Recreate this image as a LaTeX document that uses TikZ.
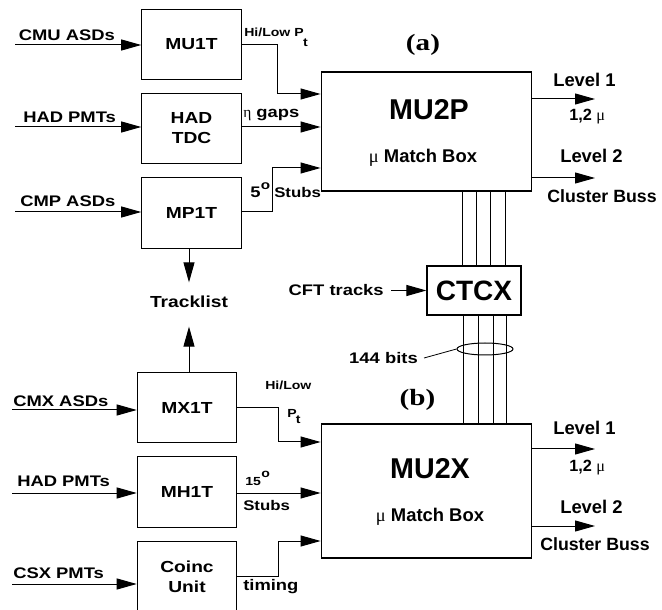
\documentclass[tikz,border=0pt]{standalone}
\usepackage{fontspec}
\setmainfont{Liberation Sans}
\newfontfamily\hvw[FakeStretch=1.2]{Liberation Sans}
\newfontfamily\tms{Liberation Serif}
\newfontfamily\tmsw[FakeStretch=1.25]{Liberation Serif}
\usepackage{tikz}
\usetikzlibrary{arrows.meta,shapes.geometric}
\newcommand{\gk}[1]{{\tms\mdseries #1}}

\begin{document}
\begin{tikzpicture}[x=.75pt,y=-.75pt,>={Triangle[length=15pt,width=8.25pt]},
 a/.style={->,line width=.75pt},
 bx/.style={draw,line width=.9pt,minimum width=74.5pt,minimum height=53pt,inner sep=0pt,align=center,font=\hvw\bfseries\fontsize{12}{15}\selectfont},
 mb/.style={draw,line width=.9pt,minimum width=158pt,inner sep=0pt},
 lab/.style={font=\hvw\bfseries\fontsize{11.5}{13}\selectfont,inner sep=0pt,anchor=base west},
 sm/.style={font=\hvw\bfseries\fontsize{8.8}{10}\selectfont,inner sep=0pt,anchor=base west},
 rt/.style={font=\bfseries\fontsize{13.8}{15}\selectfont,inner sep=0pt,anchor=base west},
 big/.style={font=\bfseries\fontsize{21.5}{24}\selectfont,inner sep=0pt,anchor=base},
 ttl/.style={font=\tmsw\bfseries\fontsize{17.5}{20}\selectfont,inner sep=0pt,anchor=base}]
\useasboundingbox (0,0) rectangle (662,610);
\clip (0,0) rectangle (662,610);
% (a) upper block
\node[bx] (mu1t) at (191.5,44.5) {MU1T};\node[bx] (hadtdc) at (191.5,128.5) {HAD\\TDC};\node[bx] (mp1t) at (191.5,213) {MP1T};
\node[mb,minimum height=89.25pt] (mu2p) at (426.5,131.5) {};
\node[big] (mu2pt) at (429,120) {MU2P};\node[rt,anchor=base] (mu2pm) at (423,163) {\gk{μ} Match Box};
\node[ttl] (ta) at (423,51) {(a)};
\node[lab] (cmu) at (18.5,40.5) {CMU ASDs};\node[lab] (hadp) at (23,122.5) {HAD PMTs};\node[lab] (cmp) at (20,207) {CMP ASDs};
\coordinate (cmu0) at (15,45);\coordinate (hadp0) at (15,127);\coordinate (cmp0) at (15,212);
\draw[a] (cmu0) -- (mu1t.west |- cmu0);\draw[a] (hadp0) -- (hadtdc.west |- hadp0);\draw[a] (cmp0) -- (mp1t.west |- cmp0);
\draw[a] (mu1t.east |- cmu0) -- ++(36,0) |- (mu2p.west |- 0,94);
\draw[a] (hadtdc.east |- hadp0) -- (mu2p.west |- hadp0);
\draw[a] (mp1t.east |- cmp0) -- ++(31,0) |- (mu2p.west |- 0,168);
\node[sm] (hl1) at (244,37) {Hi/Low P\kern-.5pt\raisebox{-7.5pt}{t}};
\node[lab] (eta) at (243,118) {\gk{η} gaps};
\node[lab] (deg5) at (250,198) {5\kern.3pt\raisebox{6.5pt}{\fontsize{9.5}{10}\selectfont o}};
\node[lab,font=\hvw\bfseries\fontsize{10.5}{12}\selectfont] (stb1) at (274,198) {Stubs};
\coordinate (l1p) at (595,99);\coordinate (l2p) at (595,178);
\draw[a] (mu2p.east |- l1p) -- (l1p);\draw[a] (mu2p.east |- l2p) -- (l2p);
\node[rt] (lv1p) at (553,87) {Level 1};\node[rt,font=\bfseries\fontsize{12.2}{14}\selectfont] (mup) at (569,121) {1,2 \gk{μ}};
\node[rt] (lv2p) at (560,163) {Level 2};\node[rt,font=\bfseries\fontsize{13.3}{15}\selectfont] (clp) at (547,203) {Cluster Buss};
% Tracklist
\node[font=\hvw\bfseries\fontsize{12}{14}\selectfont,inner sep=0pt] (tl) at (189,301.5) {Tracklist};
% CTCX
\node[draw,line width=.9pt,minimum width=70.5pt,minimum height=36.75pt,inner sep=0pt,font=\bfseries\fontsize{21}{24}\selectfont] (ctcx) at (474,290.5) {CTCX};
\node[lab,anchor=east] (cft) at (384,290.5) {CFT tracks};
\draw[a] (cft.east) ++(7,0) -- (ctcx);
\foreach \x in {462,476,490,505} \draw[line width=.75pt] (mu2p.south -| \x,0) -- (ctcx.north -| \x,0);
% (b) lower block
\node[bx] (mx1t) at (187,407.5) {MX1T};\node[bx] (mh1t) at (187,492) {MH1T};\node[bx] (coinc) at (187,576.5) {Coinc\\Unit};
\node[mb,minimum height=100.5pt] (mu2x) at (426.5,491) {};
\node[big] (mu2xt) at (430,479) {MU2X};\node[rt,anchor=base] (mu2xm) at (430,522) {\gk{μ} Match Box};
\node[ttl] (tb) at (417.5,406) {(b)};
\foreach \x in {463,478,493,506} \draw[line width=.75pt] (ctcx.south -| \x,0) -- (mu2x.north -| \x,0);
\node[draw,ellipse,line width=.75pt,minimum width=42pt,minimum height=9pt,inner sep=0pt] (bus) at (485,349) {};
\node[lab,anchor=center] (bits) at (383.5,358) {144 bits};
\draw[line width=.6pt] (bits.east) ++(6,0) -- (bus.west);
\draw[a,shorten >=9.75pt] (tl |- mp1t.south) -- (tl.north);\draw[a,shorten >=14.25pt] (tl |- mx1t.north) -- (tl.south);
\node[lab] (cmx) at (13,406.5) {CMX ASDs};\node[lab] (hadm) at (17,486.5) {HAD PMTs};\node[lab] (csx) at (13,578) {CSX PMTs};
\coordinate (cmx0) at (12,410);\coordinate (hadm0) at (12,493);\coordinate (csx0) at (12,584);
\draw[a] (cmx0) -- (mx1t.west |- cmx0);\draw[a] (hadm0) -- (mh1t.west |- hadm0);\draw[a] (csx0) -- (coinc.west |- csx0);
\draw[a] (mx1t.east) -- ++(41,0) |- (mu2x.west |- 0,442);
\draw[a] (mh1t.east |- hadm0) -- (mu2x.west |- hadm0);
\draw[a] (coinc.east) -- ++(41,0) |- (mu2x.west |- 0,541);
\node[sm] (hl2) at (265,390) {Hi/Low};\node[sm] (pt2) at (287,417) {P\kern-.5pt\raisebox{-4.5pt}{t}};
\node[sm] (deg15) at (245,485) {15\kern.3pt\raisebox{5.5pt}{o}};
\node[lab,font=\hvw\bfseries\fontsize{10.5}{12}\selectfont] (stb2) at (243,510) {Stubs};
\node[lab] (tim) at (243,590) {timing};
\coordinate (l1x) at (595,449);\coordinate (l2x) at (595,526);
\draw[a] (mu2x.east |- l1x) -- (l1x);\draw[a] (mu2x.east |- l2x) -- (l2x);
\node[rt] (lv1x) at (553,435) {Level 1};\node[rt,font=\bfseries\fontsize{12.2}{14}\selectfont] (mux) at (569,471) {1,2 \gk{μ}};
\node[rt] (lv2x) at (560,513) {Level 2};\node[rt,font=\bfseries\fontsize{13.3}{15}\selectfont] (clx) at (540,550) {Cluster Buss};
\end{tikzpicture}
\end{document}
